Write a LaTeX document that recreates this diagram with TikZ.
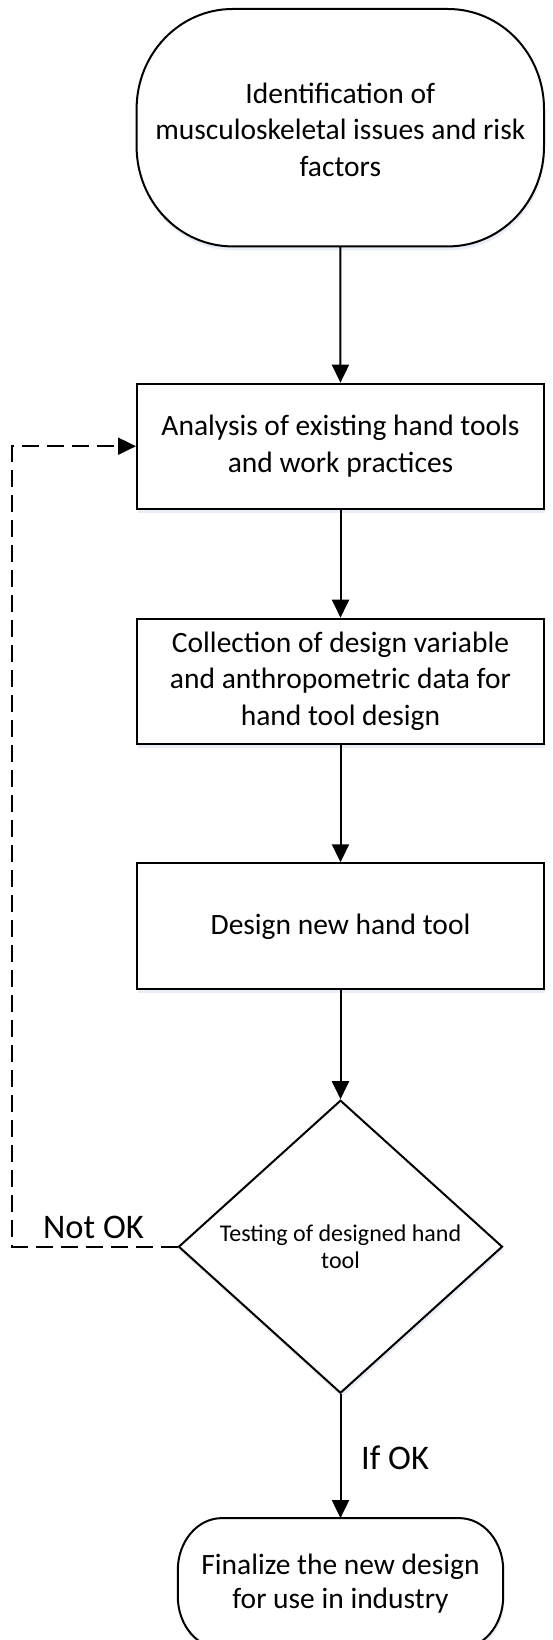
\documentclass[tikz,border=0pt]{standalone}
\usepackage{fontspec}
\setmainfont{Carlito}
\usetikzlibrary{arrows.meta,shapes.geometric,shadows,backgrounds}

\definecolor{shadowblue}{RGB}{222,230,243}

% text sizes (1pt = 1 unit of the drawing grid)
\newcommand\txtmain{\fontsize{29.5}{36.2}\selectfont}
\newcommand\txtend{\fontsize{29.5}{33.5}\selectfont}
\newcommand\txtdiamond{\fontsize{24}{27}\selectfont}
\newcommand\txtlabel{\fontsize{34.5}{40}\selectfont}

% outline of a start/end terminal drawn round a (borderless) node
% #1 node name, #2 horizontal corner radius, #3 vertical corner radius
\newcommand\terminalpath[3]{%
  \draw[outline, fill=white, softshadow]
    ([xshift=#2]#1.north west) -- ([xshift=-#2]#1.north east)
    arc[start angle=90, end angle=0, x radius=#2, y radius=#3]
    -- ([yshift=#3]#1.south east)
    arc[start angle=0, end angle=-90, x radius=#2, y radius=#3]
    -- ([xshift=#2]#1.south west)
    arc[start angle=-90, end angle=-180, x radius=#2, y radius=#3]
    -- ([yshift=-#3]#1.north west)
    arc[start angle=180, end angle=90, x radius=#2, y radius=#3]
    -- cycle;}

\tikzset{
  outline/.style={line width=2pt, draw=black},
  softshadow/.style={drop shadow={shadow xshift=1pt, shadow yshift=-4pt,
      fill=shadowblue, opacity=0.7}},
  termbox/.style={rectangle, draw=none, inner sep=0pt},
  termtext/.style={align=center, font=\txtmain, inner sep=0pt},
  stepbox/.style={rectangle, outline, fill=white, softshadow,
      minimum width=407pt, minimum height=125pt, align=center,
      font=\txtmain, inner sep=0pt},
  decision/.style={diamond, outline, fill=white, softshadow,
      minimum width=324pt, minimum height=293pt, align=center,
      font=\txtdiamond, inner sep=0pt},
  flow/.style={outline, -{Triangle[length=18pt,width=17pt]}},
  loopback/.style={flow, dash pattern=on 17pt off 8pt},
  lbl/.style={font=\txtlabel, inner sep=0pt, anchor=base west},
}

\begin{document}
\begin{tikzpicture}[x=1pt, y=-1pt]
  \useasboundingbox (0,0) rectangle (552,1640);
  \clip (0,0) rectangle (552,1640);

  % process steps
  \node[termbox, minimum width=407pt, minimum height=237pt] (start) at (340.3,127.7) {};
  \node[termtext] (starttext) at (340.3,129.7)
    {Identification of\\musculoskeletal issues and risk\\factors};
  \node[stepbox] (analysis) at (340.5,446.2)
    {Analysis of existing hand tools\\and work practices};
  \node[stepbox] (collect) at (340.5,681.2)
    {Collection of design variable\\and anthropometric data for\\hand tool design};
  \node[stepbox, minimum height=126pt] (design) at (340.5,926.3)
    {Design new hand tool};
  \node[decision] (test) at (340.5,1246.7)
    {Testing of designed hand\\tool};
  \node[termbox, minimum width=325pt, minimum height=130pt] (final) at (340.5,1583.3) {};
  \node[termtext, font=\txtend] (finaltext) at (340.5,1583.5)
    {Finalize the new design\\for use in industry};

  % terminal outlines behind their text
  \begin{pgfonlayer}{background}
    \terminalpath{start}{96pt}{100pt}
    \terminalpath{final}{44pt}{52pt}
  \end{pgfonlayer}

  % main flow
  \draw[flow] (start) -- (analysis);
  \draw[flow] (analysis) -- (collect);
  \draw[flow] (collect) -- (design);
  \draw[flow] (design) -- (test);
  \draw[flow] (test) -- (final);

  % rejection loop back to the analysis step
  \coordinate (back) at (12.3,446.2);
  \draw[loopback] (test.west) -| (back) -- (analysis.west);

  % branch labels
  \node[lbl] (notok) at (43,1238.3) {Not OK};
  \node[lbl] (ifok) at (361,1469) {If OK};
\end{tikzpicture}
\end{document}
